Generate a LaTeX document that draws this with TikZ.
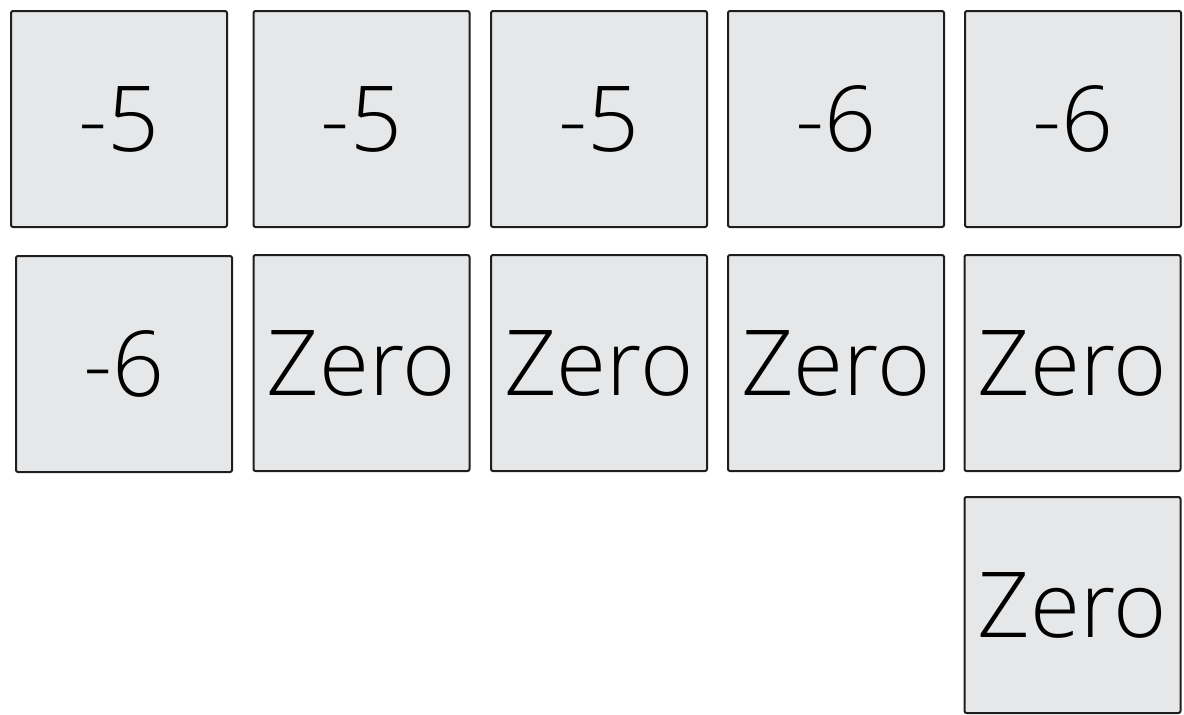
\documentclass[tikz,border=0pt]{standalone}
\usepackage{fontspec}
\setmainfont{Open Sans Light}
\usepackage{tikz}
\usetikzlibrary{positioning}
\definecolor{tilegray}{RGB}{230, 231, 232}
\definecolor{tileline}{RGB}{30, 30, 30}

\begin{document}
\begin{tikzpicture}[
    x=0.5pt, y=-0.5pt,
    tile/.style={draw=tileline, fill=tilegray, line width=1pt,
                rounded corners=1pt, minimum width=108pt,
                minimum height=108pt, inner sep=0pt, align=center,
                font=\fontsize{45.5}{50}\selectfont},
  ]
    \useasboundingbox (0,0) rectangle (1184,714);

    % First row
    \node[tile] (a1) at (119, 119)  {-5};
    \node[tile] (a2) at (361.5, 119) {-5};
    \node[tile] (a3) at (599, 119)  {-5};
    \node[tile] (a4) at (836, 119)  {-6};
    \node[tile] (a5) at (1073, 119) {-6};

    % Second row
    \node[tile] (b1) at (124, 364)  {-6};
    \node[tile] (b2) at (361.5, 363) {Zero};
    \node[tile] (b3) at (599, 363)  {Zero};
    \node[tile] (b4) at (836, 363)  {Zero};
    \node[tile] (b5) at (1072.5, 363) {Zero};

    % Third row
    \node[tile] (c5) at (1072.5, 605) {Zero};
  \end{tikzpicture}
\end{document}
